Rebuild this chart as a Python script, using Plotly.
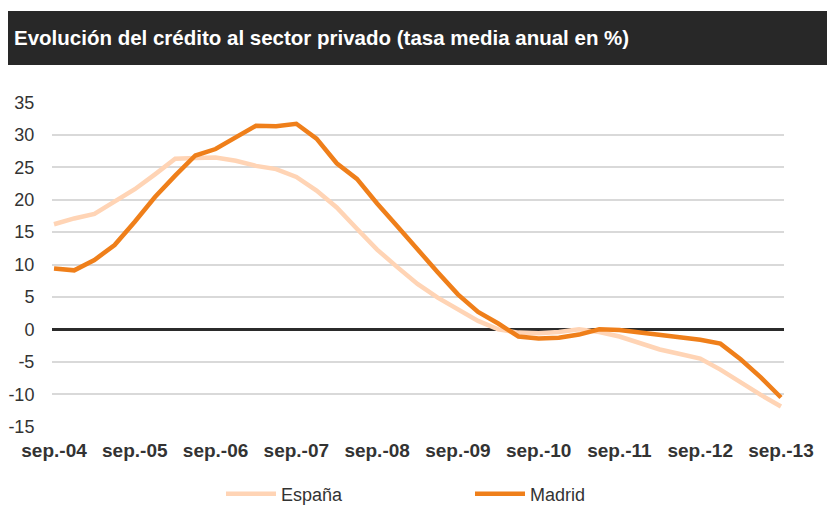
import plotly.graph_objects as go

# Quarterly categories sep-04 .. sep-13
months = ["sep.", "dic.", "mar.", "jun."]
quarters = []
for i in range(37):
    yr = 4 + (i + 1) // 4 if i % 4 != 0 else 4 + i // 4
    quarters.append(f"{months[i % 4]}-{yr:02d}")

tick_labels = ["sep.-04", "sep.-05", "sep.-06", "sep.-07", "sep.-08",
               "sep.-09", "sep.-10", "sep.-11", "sep.-12", "sep.-13"]

espana = [16.2, 17.1, 17.8, 19.6, 21.6, 23.9, 26.3, 26.4, 26.5, 26.0,
          25.2, 24.7, 23.5, 21.4, 18.8, 15.5, 12.3, 9.6, 7.0, 4.9,
          3.1, 1.3, 0.0, -0.5, -0.6, -0.4, 0.0, -0.4, -1.1, -2.1,
          -3.1, -3.8, -4.5, -6.2, -8.2, -10.1, -11.9]

madrid = [9.4, 9.1, 10.7, 13.0, 16.6, 20.4, 23.7, 26.8, 27.8, 29.7,
          31.4, 31.3, 31.7, 29.4, 25.6, 23.2, 19.4, 15.9, 12.3, 8.8,
          5.4, 2.7, 0.9, -1.1, -1.4, -1.3, -0.8, 0.0, -0.1, -0.5,
          -0.9, -1.3, -1.6, -2.2, -4.6, -7.4, -10.5]

y_ticks = [-15, -10, -5, 0, 5, 10, 15, 20, 25, 30, 35]
y_tick_labels = ["-15", "-10", "-5", "0", "5", "10", "15", "20", "25", "30", "35"]

title_text = "Evolución del crédito al sector privado (tasa media anual en %)"

# page has an 8px body margin: build the figure 8px smaller and offset geometry
OFF = 8
W, H = 835 - OFF, 506 - OFF
# desired plot area in page pixels
PL, PR, PT, PB = 52, 784, 102, 427
ml, mt = PL - OFF, PT - OFF
mr, mb = W - (PR - OFF), H - (PB - OFF)
pw, ph = PR - PL, PB - PT

def px_x(p):
    return (p - PL) / pw

def px_y(p):
    return (PB - p) / ph

fig = go.Figure()
fig.add_trace(go.Scatter(x=quarters, y=espana, mode="lines", name="España",
                         line=dict(color="#FFD4B5", width=4.5)))
fig.add_trace(go.Scatter(x=quarters, y=madrid, mode="lines", name="Madrid",
                         line=dict(color="#EF7F1A", width=4.5)))

font_family = "Liberation Sans, Arial, sans-serif"

fig.update_layout(
    width=W, height=H,
    margin=dict(l=ml, r=mr, t=mt, b=mb, autoexpand=False),
    paper_bgcolor="white", plot_bgcolor="white",
    font=dict(family=font_family, color="#333333", size=18),
    showlegend=True,
    legend=dict(orientation="h", x=px_x(221), y=px_y(494), xanchor="left",
                yanchor="middle", font=dict(size=18, color="#333333"),
                entrywidth=184, itemwidth=50, bgcolor="rgba(0,0,0,0)"),
    xaxis=dict(type="category", categoryorder="array", categoryarray=quarters,
               range=[-0.1, 36.15], tickmode="array", tickvals=tick_labels,
               ticktext=tick_labels, showgrid=False, zeroline=False,
               showline=False, ticks="outside", ticklen=6, automargin=False,
               tickcolor="rgba(0,0,0,0)",
               tickfont=dict(family=font_family, size=19, color="#333333",
                             weight="bold")),
    yaxis=dict(range=[-15.05, 35.05], tickmode="array", tickvals=y_ticks,
               ticktext=y_tick_labels,
               showgrid=True, gridcolor="#D9D9D9", gridwidth=1.5,
               zeroline=True, zerolinecolor="#2B2B2B", zerolinewidth=3,
               showline=False, ticks="outside", ticklen=13, automargin=False,
               tickcolor="rgba(0,0,0,0)",
               tickfont=dict(family=font_family, size=18, color="#333333")),
    shapes=[dict(type="rect", xref="paper", yref="paper",
                 x0=px_x(OFF), x1=px_x(835 + 10), y0=px_y(65), y1=px_y(11),
                 fillcolor="#282828", line=dict(width=0), layer="below")],
    annotations=[dict(text="<b>" + title_text + "</b>", xref="paper",
                      yref="paper", x=px_x(12), y=px_y(38), xanchor="left",
                      yanchor="middle", showarrow=False,
                      font=dict(family=font_family, size=20.5, color="white"))],
)

fig.write_html("out.html")
